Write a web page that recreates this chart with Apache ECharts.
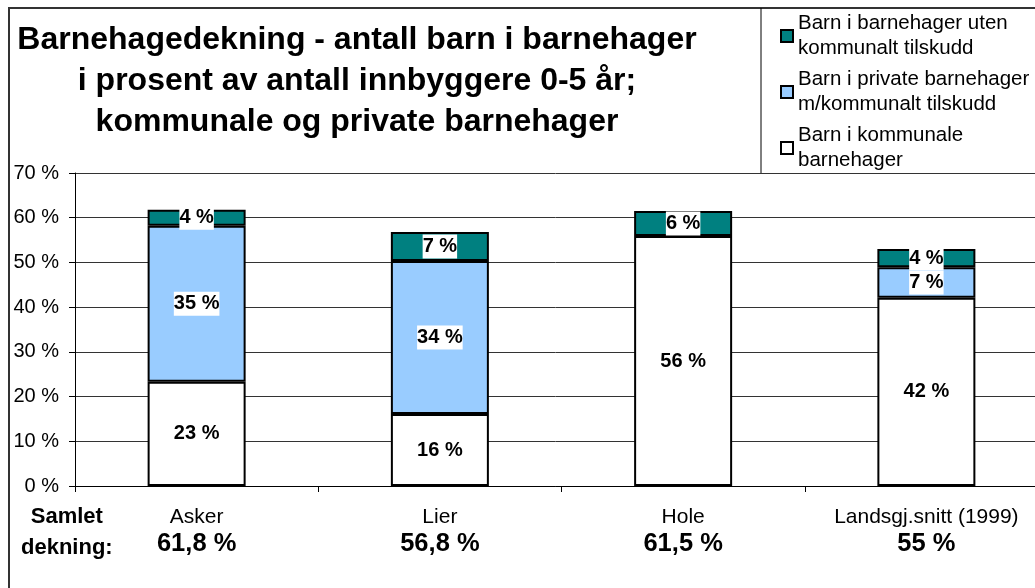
<!DOCTYPE html>
<html><head><meta charset="utf-8">
<script src="https://cdn.jsdelivr.net/npm/echarts@6/dist/echarts.min.js"></script>
<style>html,body{margin:0;padding:0;background:#fff}#c{width:1035px;height:588px}</style>
</head><body><div id="c"></div>
<script>
const categories = ['Asker', 'Lier', 'Hole', 'Landsgj.snitt (1999)'];
const kommunale = [23.3, 16.1, 55.9, 42.1];
const privateTilskudd = [34.9, 34.2, 0, 6.8];
const utenTilskudd = [3.6, 6.5, 5.6, 4.1];
const totals = [61.8, 56.8, 61.5, 55];
const yTicks = [0, 10, 20, 30, 40, 50, 60, 70];
const seriesNames = ['Barn i barnehager uten\nkommunalt tilskudd', 'Barn i private barnehager\nm/kommunalt tilskudd', 'Barn i kommunale\nbarnehager'];
const titleText = 'Barnehagedekning - antall barn i barnehager\ni prosent av antall innbyggere 0-5 år;\nkommunale og private barnehager';

const FONT = '"Liberation Sans", Arial, sans-serif';
const chart = echarts.init(document.getElementById('c'));
const fmtTotal = v => String(v).replace('.', ',') + ' %';
const nz = arr => arr.map(v => (v ? v : '-'));
const segLabel = {
  show: true, position: 'inside', color: '#000', fontFamily: FONT, fontWeight: 'bold', fontSize: 20, lineHeight: 23,
  backgroundColor: '#fff', padding: [1, 0, 0, 0],
  formatter: p => (typeof p.value === 'number' && p.value ? Math.round(p.value) + ' %' : '')
};
const barStyle = c => ({ color: c, borderColor: '#000', borderWidth: 2 });
chart.setOption({
  backgroundColor: '#fff',
  animation: false,
  title: {
    text: titleText, left: 352, top: 15, textAlign: 'center',
    textStyle: { fontFamily: FONT, fontWeight: 'bold', fontSize: 32, lineHeight: 41, color: '#000' }
  },
  legend: {
    orient: 'vertical', left: 775, top: 6, itemWidth: 12, itemHeight: 12, itemGap: 6,
    icon: 'rect', data: seriesNames,
    textStyle: { fontFamily: FONT, fontSize: 20.5, lineHeight: 25, color: '#000' }
  },
  graphic: [
    { type: 'rect', shape: { x: 9, y: 8, width: 1100, height: 700 }, style: { fill: null, stroke: '#333', lineWidth: 2 }, z: -1 },
    { type: 'line', shape: { x1: 761, y1: 8, x2: 761, y2: 173 }, style: { stroke: '#000', lineWidth: 1 } },
    { type: 'text', left: 21, top: 501, style: { text: 'Samlet\ndekning:', font: 'bold 22px ' + FONT, lineHeight: 31, fill: '#000', align: 'center', textAlign: 'center' } }
  ],
  grid: { left: 75, top: 173, width: 973, height: 313, outerBoundsMode: 'none', containLabel: false },
  xAxis: {
    type: 'category', data: categories,
    axisLine: { lineStyle: { color: '#000', width: 1 } },
    axisTick: { show: true, length: 6, lineStyle: { color: '#000' } },
    axisLabel: {
      margin: 19, color: '#000', fontFamily: FONT, fontSize: 21, lineHeight: 24,
      formatter: (v, i) => v + '\n{t|' + fmtTotal(totals[i]) + '}',
      rich: { t: { fontFamily: FONT, fontWeight: 'bold', fontSize: 25.5, lineHeight: 30, color: '#000' } }
    }
  },
  yAxis: {
    type: 'value', min: yTicks[0], max: yTicks[yTicks.length - 1], interval: 10,
    axisLine: { show: true, lineStyle: { color: '#000', width: 1 } },
    axisTick: { show: true, length: 6, lineStyle: { color: '#000' } },
    axisLabel: { margin: 16, color: '#000', fontFamily: FONT, fontSize: 20, formatter: '{value} %' },
    splitLine: { lineStyle: { color: '#333', width: 1 } }
  },
  series: [
    { name: seriesNames[2], type: 'bar', stack: 's', barWidth: 98, data: nz(kommunale), itemStyle: barStyle('#ffffff'), label: segLabel },
    { name: seriesNames[1], type: 'bar', stack: 's', barWidth: 98, data: nz(privateTilskudd), itemStyle: barStyle('#99ccff'), label: segLabel },
    { name: seriesNames[0], type: 'bar', stack: 's', barWidth: 98, data: nz(utenTilskudd), itemStyle: barStyle('#008080'), label: segLabel }
  ]
});
</script></body></html>
